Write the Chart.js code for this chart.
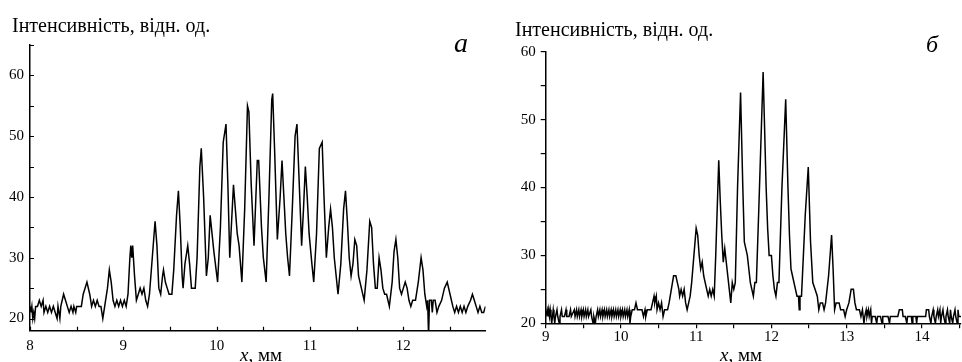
<!DOCTYPE html>
<html>
<head>
<meta charset="utf-8">
<script src="https://cdn.jsdelivr.net/npm/chart.js@4.4.1/dist/chart.umd.min.js"></script>
<style>
  html, body { margin: 0; padding: 0; background: #fff; }
  #wrap { position: relative; width: 962px; height: 362px; overflow: hidden; background: #fff; }
  .box { position: absolute; top: 0; height: 362px; }
  .txt { position: absolute; font-family: "Liberation Serif", "Times New Roman", serif; color: #000; white-space: nowrap; line-height: 1; }
</style>
</head>
<body>
<div id="wrap">
  <div class="box" style="left:0;width:490px;"><canvas id="c1"></canvas></div>
  <div class="box" style="left:490px;width:472px;"><canvas id="c2"></canvas></div>
  <div class="txt" style="left:12px;top:15px;font-size:20px;">Інтенсивність, відн. од.</div>
  <div class="txt" style="left:515px;top:18.5px;font-size:20px;">Інтенсивність, відн. од.</div>
  <div class="txt" style="left:454px;top:29px;font-size:28px;font-style:italic;">а</div>
  <div class="txt" style="left:926px;top:32px;font-size:24px;font-style:italic;">б</div>
  <div class="txt" style="left:240px;top:345px;font-size:19px;"><i>x</i>, мм</div>
  <div class="txt" style="left:720px;top:345px;font-size:19px;"><i>x</i>, мм</div>
</div>
<script>
// ---- Panel (а) data: position x, mm and intensity ----
const xA = [8.00,8.01,8.02,8.03,8.04,8.05,8.06,8.08,8.10,8.12,8.14,8.15,8.17,8.19,8.21,8.23,8.25,8.27,8.29,8.30,8.32,8.33,8.36,8.38,8.40,8.42,8.44,8.46,8.47,8.49,8.50,8.55,8.57,8.61,8.64,8.66,8.68,8.70,8.72,8.74,8.76,8.78,8.80,8.83,8.85,8.87,8.89,8.91,8.93,8.95,8.97,8.99,9.01,9.03,9.05,9.07,9.08,9.09,9.10,9.12,9.14,9.16,9.18,9.20,9.22,9.24,9.26,9.28,9.31,9.34,9.36,9.38,9.40,9.42,9.43,9.45,9.47,9.49,9.52,9.54,9.57,9.59,9.61,9.63,9.64,9.66,9.69,9.71,9.73,9.77,9.79,9.82,9.835,9.86,9.89,9.91,9.93,9.95,9.97,10.01,10.04,10.07,10.10,10.12,10.14,10.16,10.18,10.20,10.22,10.24,10.27,10.30,10.33,10.345,10.37,10.40,10.42,10.435,10.45,10.48,10.50,10.53,10.56,10.59,10.60,10.62,10.65,10.68,10.70,10.72,10.74,10.76,10.78,10.81,10.84,10.86,10.88,10.91,10.93,10.95,10.97,10.99,11.02,11.04,11.07,11.10,11.13,11.15,11.175,11.20,11.22,11.24,11.26,11.30,11.33,11.36,11.38,11.40,11.42,11.44,11.46,11.48,11.50,11.52,11.55,11.58,11.61,11.64,11.66,11.68,11.70,11.72,11.74,11.76,11.78,11.80,11.82,11.85,11.88,11.90,11.92,11.94,11.96,11.98,12.00,12.02,12.04,12.06,12.08,12.10,12.13,12.16,12.19,12.21,12.23,12.25,12.26,12.27,12.28,12.30,12.31,12.32,12.34,12.36,12.38,12.41,12.44,12.47,12.50,12.53,12.55,12.57,12.59,12.61,12.63,12.65,12.67,12.69,12.72,12.74,12.76,12.78,12.80,12.82,12.84,12.86,12.88];
const yA = [22,21,22,20,21,20,22,22,23,22,23,21,22,21,22,21,22,21,20,22,20,22,24,23,22,21,22,21,22,21,22,22,24,26,24,22,23,22,23,22,22,20,22,25,28,26,23,22,23,22,23,22,23,22,24,30,32,30,32,27,23,24,25,24,25,23,22,24,30,36,32,25,24,27,28,26,25,24,24,28,37,41,35,27,25,29,32,29,25,25,30,45,48,40,27,30,37,34,31,26,35,49,52,42,30,36,42,38,34,32,26,38,55,54,42,32,40,46,46,35,30,26,40,56,57,48,33,40,46,40,34,30,27,38,50,52,44,32,38,45,40,34,29,26,34,48,49,40,30,35,38,35,30,24,29,38,41,36,30,27,29,33,32,27,25,23,28,36,35,29,25,25,30,28,25,24,24,22,26,31,33,30,25,24,25,26,25,23,22,23,23,26,30,28,24,22,23,17,23,23,21,23,23,21,22,23,25,26,24,22,21,22,21,22,21,22,21,22,23,24,23,22,21,22,21,21,22];

// ---- Panel (б) data ----
const xB = [9.00,9.02,9.03,9.04,9.05,9.06,9.07,9.08,9.09,9.10,9.11,9.12,9.13,9.15,9.16,9.18,9.19,9.21,9.22,9.25,9.27,9.28,9.31,9.33,9.34,9.38,9.39,9.41,9.42,9.44,9.45,9.47,9.48,9.50,9.51,9.53,9.54,9.56,9.57,9.60,9.61,9.63,9.64,9.66,9.67,9.69,9.70,9.72,9.73,9.75,9.76,9.78,9.79,9.81,9.82,9.84,9.85,9.87,9.88,9.90,9.91,9.93,9.94,9.96,9.97,9.99,10.00,10.02,10.03,10.05,10.06,10.08,10.09,10.11,10.12,10.13,10.15,10.18,10.20,10.22,10.25,10.28,10.30,10.32,10.33,10.35,10.37,10.40,10.42,10.44,10.45,10.47,10.48,10.50,10.52,10.54,10.56,10.58,10.62,10.64,10.67,10.70,10.73,10.75,10.77,10.78,10.80,10.82,10.84,10.86,10.88,10.90,10.92,10.94,10.97,11.00,11.02,11.04,11.06,11.08,11.10,11.12,11.14,11.16,11.18,11.20,11.22,11.24,11.26,11.30,11.32,11.34,11.36,11.38,11.40,11.42,11.44,11.46,11.48,11.50,11.52,11.55,11.59,11.62,11.64,11.66,11.68,11.70,11.72,11.74,11.76,11.78,11.80,11.83,11.89,11.93,11.95,11.97,12.00,12.02,12.04,12.06,12.08,12.10,12.14,12.19,12.22,12.24,12.26,12.28,12.32,12.34,12.36,12.37,12.38,12.40,12.45,12.49,12.52,12.55,12.58,12.61,12.63,12.65,12.68,12.70,12.72,12.76,12.80,12.82,12.84,12.86,12.90,12.92,12.96,12.98,13.00,13.03,13.06,13.09,13.11,13.13,13.17,13.19,13.21,13.23,13.24,13.26,13.27,13.29,13.30,13.32,13.33,13.34,13.38,13.40,13.41,13.45,13.47,13.48,13.55,13.57,13.58,13.68,13.70,13.74,13.75,13.78,13.80,13.81,13.86,13.87,13.88,13.92,13.93,13.94,14.05,14.06,14.09,14.10,14.12,14.13,14.15,14.16,14.18,14.19,14.21,14.22,14.24,14.25,14.26,14.28,14.29,14.31,14.32,14.34,14.35,14.37,14.38,14.39,14.41,14.42,14.44,14.45,14.47,14.48,14.49,14.52];
const yB = [21,22,21,22,21,22,21,20,21,22,21,20,21,22,21,20,21,22,21,21,22,21,21,22,21,22,21,22,21,22,21,22,21,22,21,22,21,22,21,22,21,20,21,20,21,22,21,22,21,22,21,22,21,22,21,22,21,22,21,22,21,22,21,22,21,22,21,22,21,22,21,22,21,22,20,21,22,22,23,22,22,22,21,22,21,22,22,22,23,24,23,24,22,23,22,23,21,22,22,23,25,27,27,26,25,24,25,24,25,23,22,23,24,26,30,34,33,30,28,29,27,26,25,24,25,24,25,24,30,44,38,33,29,31,29,27,25,23,26,25,26,40,54,40,32,31,30,28,26,25,24,26,26,36,57,40,34,30,30,27,25,24,26,26,40,53,40,33,28,27,25,24,24,22,24,24,36,43,32,26,25,24,22,23,23,22,23,27,33,28,22,23,23,22,22,21,22,23,25,25,23,22,22,21,22,20,21,22,21,22,21,22,20,21,21,20,21,21,20,21,21,20,21,21,22,22,21,21,20,21,21,20,21,21,20,21,21,22,22,21,20,21,22,21,20,21,22,21,22,20,21,22,21,20,21,22,21,20,22,21,20,21,22,21,20,22,21,21];

// ---- Axis ranges and tick steps ----
const xRangeA = [8, 12.88], yRangeA = [18, 65];
const xRangeB = [9, 14.52], yRangeB = [20, 60];
const xStep = 0.5, yStep = 5;

const toPts = (xs, ys) => xs.map((x, i) => ({ x: x, y: ys[i] }));
const tickFont = { family: '"Liberation Serif", "Times New Roman", serif', size: 15 };
const labelX = v => Number.isInteger(v) ? String(v) : '';
const labelY = v => (v % 10 === 0) ? String(v) : '';

const inwardTicks = {
  id: 'inwardTicks',
  afterDraw(chart) {
    const { ctx, chartArea: a, scales: { x, y } } = chart;
    ctx.save();
    ctx.strokeStyle = '#000';
    ctx.lineWidth = 1.2;
    ctx.beginPath();
    x.ticks.forEach(t => { const p = Math.round(x.getPixelForValue(t.value)) + 0.5; ctx.moveTo(p, a.bottom); ctx.lineTo(p, a.bottom - 4); });
    y.ticks.forEach(t => { const p = Math.round(y.getPixelForValue(t.value)) + 0.5; ctx.moveTo(a.left, p); ctx.lineTo(a.left + 4, p); });
    ctx.stroke();
    ctx.restore();
  }
};

function makeChart(id, pts, xr, yr, cfg) {
  return new Chart(document.getElementById(id), {
    type: 'line',
    data: { datasets: [{ data: pts, borderColor: '#000', borderWidth: 1.5, pointRadius: 0, tension: 0, fill: false }] },
    options: {
      responsive: true, maintainAspectRatio: false, animation: false, devicePixelRatio: 1,
      layout: { padding: cfg.padding },
      plugins: { legend: { display: false }, tooltip: { enabled: false }, title: { display: false } },
      scales: {
        x: {
          type: 'linear', min: xr[0], max: xr[1],
          border: { display: true, color: '#000', width: 1.5 },
          grid: cfg.grid,
          ticks: { stepSize: xStep, includeBounds: false, autoSkip: false, maxRotation: 0, color: '#000', font: tickFont, padding: cfg.xPad, callback: labelX },
          afterFit: s => { s.height = cfg.xH; }
        },
        y: {
          type: 'linear', min: yr[0], max: yr[1],
          border: { display: true, color: '#000', width: 1.5 },
          grid: cfg.grid,
          ticks: { stepSize: yStep, includeBounds: false, autoSkip: false, color: '#000', font: tickFont, padding: cfg.yPad, callback: labelY },
          afterFit: s => { s.width = cfg.yW; }
        }
      }
    },
    plugins: cfg.plugins
  });
}

makeChart('c1', toPts(xA, yA), xRangeA, yRangeA, {
  padding: { top: 45, right: 4.5, left: 0, bottom: 0 },
  grid: { display: true, drawOnChartArea: false, drawTicks: false, color: '#000' },
  xPad: 6, yPad: 6, xH: 31.3, yW: 30, plugins: [inwardTicks]
});

makeChart('c2', toPts(xB, yB), xRangeB, yRangeB, {
  padding: { top: 51.7, right: 1, left: 0, bottom: 0 },
  grid: { display: true, drawOnChartArea: false, drawTicks: true, tickLength: 5, color: '#000', lineWidth: 1.2 },
  xPad: 0, yPad: 5, xH: 38.7, yW: 55.7, plugins: []
});
</script>
</body>
</html>
